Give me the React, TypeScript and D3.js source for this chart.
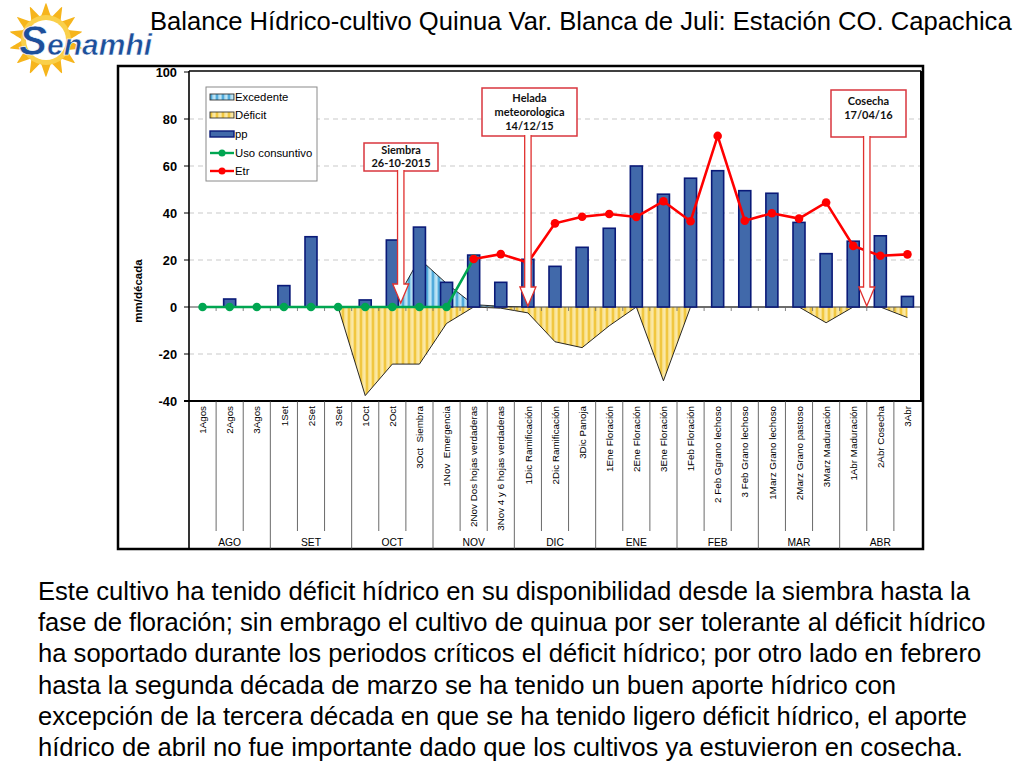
import React from "react";
import * as d3 from "d3";

const FONT = "'Liberation Sans', Arial, Helvetica, sans-serif";

const categories = [
  "1Agos", "2Agos", "3Agos", "1Set", "2Set", "3Set", "1Oct", "2Oct", "3Oct  Siembra",
  "1Nov  Emergencia", "2Nov Dos hojas verdaderas", "3Nov 4 y 6 hojas verdaderas",
  "1Dic Ramificación", "2Dic Ramificación", "3Dic Panoja", "1Ene Floración", "2Ene Floración",
  "3Ene Floración", "1Feb Floración", "2 Feb Ggrano lechoso", "3 Feb Grano lechoso",
  "1Marz Grano lechoso", "2Marz Grano pastoso", "3Marz Maduración", "1Abr Maduración",
  "2Abr Cosecha", "3Abr",
];
const months = ["AGO", "SET", "OCT", "NOV", "DIC", "ENE", "FEB", "MAR", "ABR"];

const ppValues = [0, 3.4, 0, 9.1, 29.9, 0, 3, 28.5, 34, 10.5, 22.1, 10.5, 20.3, 17.3, 25.4, 33.5, 60, 48, 54.8, 58, 49.5, 48.4, 36, 22.7, 28, 30.3, 4.5];
const excedenteValues: (number | null)[] = [null, null, null, null, null, null, null, 0, 20.5, 10, 1, 0.3, 0, null, null, null, null, null, null, null, null, null, null, null, null, null, null];
const deficitValues: (number | null)[] = [null, null, null, null, null, 0, -37.7, -24.3, -24.3, -7, 0, -0.5, -2.5, -14.8, -17.3, -8, 0, -31.4, 0, 0, 0, 0, 0, -6.7, 0, 0, -4.5];
const usoValues: (number | null)[] = [0, 0, 0, 0, 0, 0, 0, 0, 0, 0, 20.5, null, null, null, null, null, null, null, null, null, null, null, null, null, null, null, null];
const etrValues: (number | null)[] = [null, null, null, null, null, null, null, null, null, null, 20.4, 22.5, 18.9, 35.6, 38.4, 39.6, 38.3, 45, 36.5, 72.8, 36.7, 39.9, 37.6, 44.5, 26, 21.8, 22.4];
const yTicks = [100, 80, 60, 40, 20, 0, -20, -40];
const gridValues = [80, 60, 40, 20, -20];

const legendItems = ["Excedente", "Déficit", "pp", "Uso consuntivo", "Etr"];

const paragraph = [
  "Este cultivo ha tenido déficit hídrico en su disponibilidad desde la siembra hasta la",
  "fase de floración; sin embrago el cultivo de quinua por ser tolerante al déficit hídrico",
  "ha soportado durante los periodos críticos el déficit hídrico; por otro lado en febrero",
  "hasta la segunda década de marzo se ha tenido un buen aporte hídrico con",
  "excepción de la tercera década en que se ha tenido ligero déficit hídrico, el aporte",
  "hídrico de abril no fue importante dado que los cultivos ya estuvieron en cosecha.",
];

const title = "Balance Hídrico-cultivo Quinua Var. Blanca de Juli: Estación CO. Capachica";

const RED = "#FF0000";
const GREEN = "#00A651";

function Arrow({ x, top, tip }: { x: number; top: number; tip: number }) {
  const headH = 19;
  const hw = 8;
  const sw = 3.2;
  const ht = tip - headH;
  const d = `M${x - sw},${top} L${x - sw},${ht} L${x - hw},${ht} L${x},${tip} L${x + hw},${ht} L${x + sw},${ht} L${x + sw},${top}`;
  return <path d={d} fill="#fff" stroke="#E0302E" strokeWidth={1.3} />;
}

function Logo() {
  const cxs = 46, cys = 40;
  const n = 14;
  const pts: [number, number][] = [];
  for (let i = 0; i < n * 2; i++) {
    const a = (i * Math.PI) / n - Math.PI / 2;
    const r = i % 2 === 0 ? 37 : 24;
    pts.push([cxs + r * Math.cos(a), cys + r * Math.sin(a)]);
  }
  const star = d3.line().curve(d3.curveCardinalClosed.tension(0.6))(pts) as string;
  return (
    <g>
      <path d={star} fill="#F6B51C" />
      <circle cx={cxs} cy={cys} r={25} fill="#FAD04A" />
      <circle cx={cxs} cy={cys} r={20} fill="#ffffff" />
      <text x={19} y={55} fontFamily={FONT} fontWeight="bold" fontStyle="italic" fill="#1D4F9B" stroke="#fff" strokeWidth={0.6}>
        <tspan fontSize={42}>S</tspan>
        <tspan fontSize={30}>enamhi</tspan>
      </text>
    </g>
  );
}

export default function App() {
  const W = 1024, H = 768;
  const left = 189, right = 921, top = 72, bottom = 401;
  const x = d3.scaleBand<string>().domain(categories).range([left, right]);
  const bw = x.bandwidth();
  const cx = (i: number) => (x(categories[i]) as number) + bw / 2;
  const y = d3.scaleLinear().domain([-40, 100]).range([bottom, top]);
  const y0 = y(0);

  const area = d3
    .area<number | null>()
    .defined((d) => d != null)
    .x((_, i) => cx(i))
    .y0(y0)
    .y1((d) => y(d as number));
  const line = d3
    .line<number | null>()
    .defined((d) => d != null)
    .x((_, i) => cx(i))
    .y((d) => y(d as number));

  const barW = 12;

  const siembraX = cx(7) + bw * 0.31;
  const heladaX = cx(12);
  const cosechaX = x(categories[25]) as number;

  const annotations = [
    { lines: ["Siembra", "26-10-2015"], x: siembraX, bx0: 364, bx1: 438, by0: 143, by1: 171, tip: 303, ty: [154, 167] },
    { lines: ["Helada", "meteorologica", "14/12/15"], x: heladaX, bx0: 482, bx1: 577, by0: 88, by1: 136, tip: 306, ty: [102, 116, 130] },
    { lines: ["Cosecha", "17/04/16"], x: cosechaX, bx0: 831, bx1: 906, by0: 90, by1: 137, tip: 306, ty: [105, 119] },
  ];

  const legendY = [97, 115, 134, 153, 171];

  return (
    <svg width={W} height={H} style={{ position: "absolute", left: 0, top: 0, background: "#fff" }} fontFamily={FONT}>
      <defs>
        <pattern id="defPat" width={6} height={10} patternUnits="userSpaceOnUse">
          <rect width={6} height={10} fill="#F8DD80" />
          <rect x={0} width={2} height={10} fill="#F1C740" />
          <rect x={3.5} width={1.2} height={10} fill="#FCEDB8" />
        </pattern>
        <pattern id="excPat" width={6} height={10} patternUnits="userSpaceOnUse">
          <rect width={6} height={10} fill="#92CFEC" />
          <rect x={0} width={2} height={10} fill="#52ABDB" />
          <rect x={3.5} width={1.2} height={10} fill="#D2EDF8" />
        </pattern>
      </defs>
      <rect width={W} height={H} fill="#fff" />
      <Logo />
      <text x={150} y={30} fontSize={25.6} fill="#000">{title}</text>

      {/* outer frame */}
      <rect x={118} y={66} width={805} height={483} fill="none" stroke="#000" strokeWidth={2.5} />

      {/* gridlines */}
      {gridValues.map((v) => (
        <line key={v} x1={left} x2={right} y1={y(v)} y2={y(v)} stroke="#C9C9C9" strokeDasharray="5,4" strokeWidth={1} />
      ))}

      {/* areas */}
      <path d={area(excedenteValues) as string} fill="url(#excPat)" stroke="none" />
      <path d={line(excedenteValues) as string} fill="none" stroke="#111" strokeWidth={0.9} />
      <path d={area(deficitValues) as string} fill="url(#defPat)" stroke="none" />
      <path d={line(deficitValues) as string} fill="none" stroke="#111" strokeWidth={0.9} />

      {/* zero line with ticks */}
      <line x1={left} x2={right} y1={y0} y2={y0} stroke="#444" strokeWidth={1.2} />
      {categories.map((c, i) =>
        i > 0 ? <line key={c} x1={x(c) as number} x2={x(c) as number} y1={y0} y2={y0 + 4} stroke="#666" strokeWidth={0.8} /> : null
      )}

      {/* pp bars */}
      {ppValues.map((v, i) =>
        v > 0 ? (
          <rect key={i} x={cx(i) - barW / 2} y={y(v)} width={barW} height={y0 - y(v)} fill="#4169AA" stroke="#0A1A78" strokeWidth={1.6} />
        ) : null
      )}

      {/* lines */}
      <path d={line(usoValues) as string} fill="none" stroke={GREEN} strokeWidth={2.6} />
      {usoValues.map((v, i) => (v != null ? <circle key={i} cx={cx(i)} cy={y(v)} r={4.3} fill={GREEN} /> : null))}
      <path d={line(etrValues) as string} fill="none" stroke={RED} strokeWidth={2.6} />
      {etrValues.map((v, i) => (v != null ? <circle key={i} cx={cx(i)} cy={y(v)} r={4.3} fill={RED} /> : null))}

      {/* plot frame */}
      <line x1={left} x2={right} y1={71} y2={71} stroke="#000" strokeWidth={1.5} />
      <line x1={right} x2={right} y1={71} y2={bottom} stroke="#000" strokeWidth={2} />
      <line x1={left} x2={left} y1={71} y2={549} stroke="#000" strokeWidth={1.6} />
      <line x1={left - 5} x2={923} y1={bottom} y2={bottom} stroke="#000" strokeWidth={2.2} />

      {/* y axis */}
      {yTicks.map((v) => (
        <g key={v}>
          <line x1={left - 5} x2={left} y1={y(v)} y2={y(v)} stroke="#000" strokeWidth={1} />
          <text x={177} y={y(v) + 4.5} textAnchor="end" fontSize={12.8} fontWeight="bold" fill="#000">{v}</text>
        </g>
      ))}
      <text transform={`translate(142,291) rotate(-90)`} textAnchor="middle" fontSize={11.5} fontWeight="bold" fill="#000">mm/década</text>

      {/* category table */}
      {categories.map((c, i) =>
        i > 0 && i % 3 !== 0 ? (
          <line key={"s" + i} x1={x(c) as number} x2={x(c) as number} y1={bottom} y2={531} stroke="#444" strokeWidth={0.8} />
        ) : null
      )}
      {months.map((m, k) =>
        k > 0 ? (
          <line key={"m" + k} x1={x(categories[k * 3]) as number} x2={x(categories[k * 3]) as number} y1={bottom} y2={549} stroke="#444" strokeWidth={0.8} />
        ) : null
      )}
      {categories.map((c, i) => (
        <text key={"t" + i} transform={`translate(${cx(i) + 3.7},406) rotate(-90)`} textAnchor="end" fontSize={9.8} fill="#000" xmlSpace="preserve">
          {c}
        </text>
      ))}
      {months.map((m, k) => (
        <text key={"ml" + k} x={(x(categories[k * 3]) as number) + bw * 1.5} y={546} textAnchor="middle" fontSize={10.3} fill="#000">
          {m}
        </text>
      ))}

      {/* annotations */}
      {annotations.map((a, k) => (
        <g key={k}>
          <rect x={a.bx0} y={a.by0} width={a.bx1 - a.bx0} height={a.by1 - a.by0} fill="#fff" stroke="#D9363E" strokeWidth={1.5} />
          {a.lines.map((t, j) => (
            <text key={j} x={(a.bx0 + a.bx1) / 2} y={a.ty[j]} textAnchor="middle" fontFamily="Lato, 'Open Sans', sans-serif" fontWeight="bold" fontSize={11} fill="#111">
              {t}
            </text>
          ))}
          <Arrow x={a.x} top={a.by1 - 1} tip={a.tip} />
        </g>
      ))}

      {/* legend */}
      <rect x={206} y={87} width={111} height={94} fill="#fff" stroke="#8A8A8A" strokeWidth={1} />
      {legendItems.map((t, i) => {
        const ly = legendY[i];
        let sym: React.ReactNode = null;
        if (i === 0) sym = <rect x={210} y={ly - 3} width={24} height={6} fill="url(#excPat)" stroke="#333" strokeWidth={0.9} />;
        else if (i === 1) sym = <rect x={210} y={ly - 3} width={24} height={6} fill="url(#defPat)" stroke="#333" strokeWidth={0.9} />;
        else if (i === 2) sym = <rect x={210} y={ly - 3} width={24} height={6} fill="#4169AA" stroke="#0A1A78" strokeWidth={1.4} />;
        else {
          const col = i === 3 ? GREEN : RED;
          sym = (
            <g>
              <line x1={210} x2={234} y1={ly} y2={ly} stroke={col} strokeWidth={2.4} />
              <circle cx={222} cy={ly} r={3.5} fill={col} />
            </g>
          );
        }
        return (
          <g key={t}>
            {sym}
            <text x={235} y={ly + 4} fontSize={11.3} fill="#000">{t}</text>
          </g>
        );
      })}

      {/* paragraph */}
      {paragraph.map((t, i) => (
        <text key={i} x={38} y={600 + i * 31.2} fontSize={25.6} fill="#000">{t}</text>
      ))}
    </svg>
  );
}
